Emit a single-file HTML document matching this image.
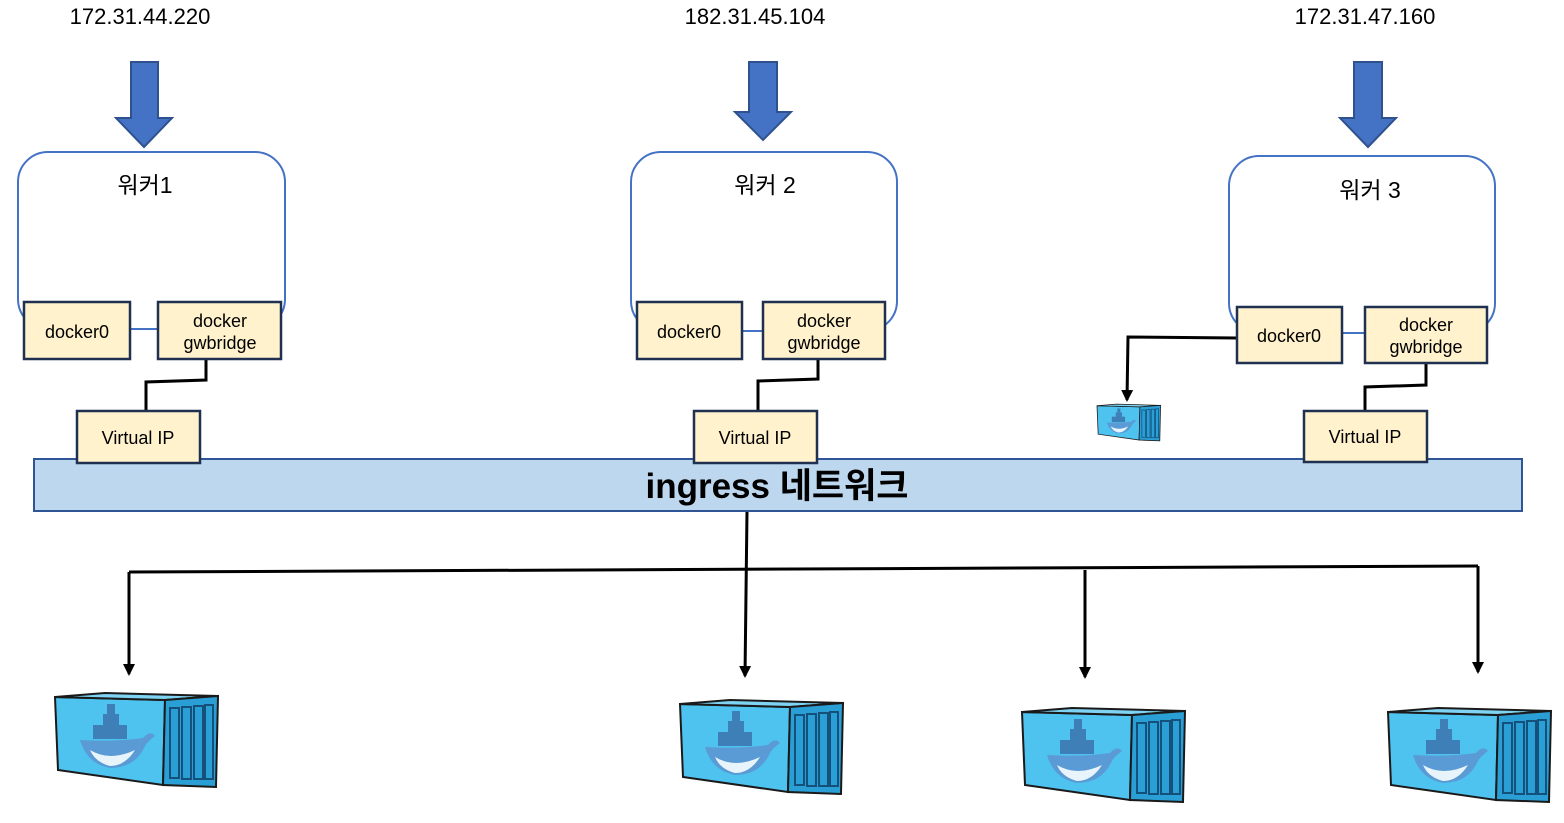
<!DOCTYPE html>
<html><head><meta charset="utf-8"><style>
body{margin:0;background:#fff;}
svg text{font-family:"Liberation Sans","Noto Sans CJK KR",sans-serif;}
</style></head><body>
<svg width="1564" height="818" viewBox="0 0 1564 818" xmlns="http://www.w3.org/2000/svg">
<defs>
<marker id="ah" markerWidth="12" markerHeight="12" refX="10" refY="6" orient="auto" markerUnits="userSpaceOnUse" viewBox="0 0 12 12">
<path d="M0,0 L12,6 L0,12 z" fill="#000"/></marker>
<g id="cont">
<polygon points="0,7 110,10 108,95 3,80" fill="#4fc3ef" stroke="#1a1a1a" stroke-width="2"/>
<polygon points="0,7 50,3 163,6 110,10" fill="#7fd3f3" stroke="#1a1a1a" stroke-width="2"/>
<polygon points="110,10 163,6 161,97 108,95" fill="#2a9fd6" stroke="#1a1a1a" stroke-width="2"/>
<g stroke="#14507a" stroke-width="2" fill="none">
<rect x="115" y="18" width="9" height="70"/><rect x="127" y="17" width="9" height="72"/><rect x="139" y="16" width="9" height="73"/><rect x="150" y="15" width="8" height="74"/></g>
<g fill="#3f7fb8"><rect x="38" y="35" width="34" height="14"/><rect x="48" y="24" width="16" height="12"/><rect x="52" y="14" width="8" height="10"/></g>
<path d="M25,50 Q60,52 88,48 Q95,40 100,46 Q92,52 90,56 Q80,78 55,78 Q32,74 25,50z" fill="#5b9bd5"/>
<path d="M35,60 Q55,72 80,60 Q70,76 55,76 Q40,72 35,60z" fill="#e8f4fb"/>
</g>
</defs>
<g fill="#000" font-size="22" text-anchor="middle">
<text x="140" y="24">172.31.44.220</text>
<text x="755" y="24">182.31.45.104</text>
<text x="1365" y="24">172.31.47.160</text>
</g>
<g fill="#4472c4" stroke="#2f528f" stroke-width="2">
<polygon points="131,62 158,62 158,118 172,118 144,147 116,118 131,118"/>
<polygon points="749,62 777,62 777,112 791,112 763,140 735,112 749,112"/>
<polygon points="1354,62 1382,62 1382,118 1396,118 1368,147 1340,118 1354,118"/>
</g>
<g fill="none" stroke="#4472c4" stroke-width="2">
<rect x="18" y="152" width="267" height="177" rx="30"/>
<rect x="631" y="152" width="266" height="179" rx="30"/>
<rect x="1229" y="156" width="266" height="177" rx="30"/>
</g>
<g fill="#000" font-size="23" text-anchor="middle">
<text x="145" y="193">워커1</text><text x="765" y="193">워커 2</text><text x="1370" y="198">워커 3</text>
</g>
<g stroke="#000" stroke-width="3" fill="none">
<polyline points="206,359 206,380 146,382 146,411"/>
<polyline points="818,359 818,379 758,381 758,411"/>
<polyline points="1426,363 1426,385 1365,387 1365,411"/>
<polyline points="1237,338 1128,337 1127,400" marker-end="url(#ah)"/>
<line x1="747" y1="511" x2="745" y2="676" marker-end="url(#ah)"/>
<line x1="129" y1="572" x2="1478" y2="566"/>
<line x1="129" y1="572" x2="129" y2="674" marker-end="url(#ah)"/>
<line x1="1085" y1="570" x2="1085" y2="677" marker-end="url(#ah)"/>
<line x1="1478" y1="566" x2="1478" y2="672" marker-end="url(#ah)"/>
</g>
<rect x="34" y="459" width="1488" height="52" fill="#bdd7ee" stroke="#2f5597" stroke-width="2"/>
<text x="777" y="498" font-size="35" font-weight="bold" text-anchor="middle" fill="#000">ingress 네트워크</text>
<g fill="#fff2cc" stroke="#1f3050" stroke-width="2.5">
<rect x="24" y="302" width="106" height="57"/><rect x="158" y="302" width="123" height="57"/><rect x="77" y="411" width="123" height="52"/>
<rect x="637" y="302" width="105" height="57"/><rect x="763" y="302" width="122" height="57"/><rect x="694" y="411" width="123" height="52"/>
<rect x="1237" y="307" width="105" height="56"/><rect x="1365" y="307" width="122" height="56"/><rect x="1304" y="411" width="123" height="51"/>
</g>
<g fill="#000" font-size="18" text-anchor="middle">
<text x="77" y="338">docker0</text><text x="220" y="327">docker</text><text x="220" y="349">gwbridge</text><text x="138" y="444">Virtual IP</text>
<text x="689" y="338">docker0</text><text x="824" y="327">docker</text><text x="824" y="349">gwbridge</text><text x="755" y="444">Virtual IP</text>
<text x="1289" y="342">docker0</text><text x="1426" y="331">docker</text><text x="1426" y="353">gwbridge</text><text x="1365" y="443">Virtual IP</text>
</g>
<use href="#cont" transform="translate(55,690)"/>
<use href="#cont" transform="translate(680,697)"/>
<use href="#cont" transform="translate(1022,705)"/>
<use href="#cont" transform="translate(1388,705)"/>
<use href="#cont" transform="translate(1097,403) scale(0.39)"/>
</svg>
</body></html>
